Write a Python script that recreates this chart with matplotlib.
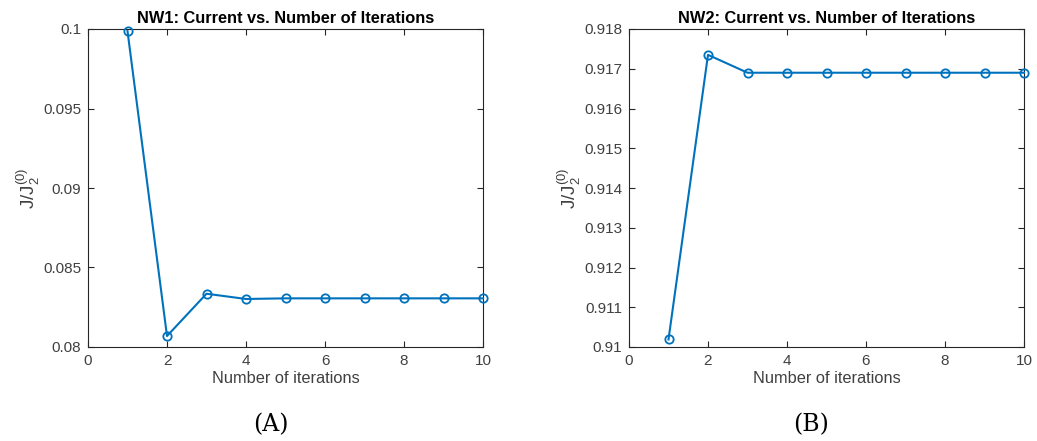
import numpy as np
import matplotlib
matplotlib.use('Agg')
from matplotlib import pyplot as plt

plt.rcParams['font.family'] = ['Liberation Sans', 'DejaVu Sans']
plt.rcParams['mathtext.fontset'] = 'custom'
plt.rcParams['mathtext.rm'] = 'Liberation Sans'
plt.rcParams['mathtext.it'] = 'Liberation Sans'

iterations = np.arange(1, 11)
nw1_current = [0.09987, 0.08069, 0.08335, 0.08302, 0.08306, 0.08306, 0.08306, 0.08306, 0.08306, 0.08306]
nw2_current = [0.91019, 0.91735, 0.91690, 0.91690, 0.91690, 0.91690, 0.91690, 0.91690, 0.91690, 0.91690]

nw1_yticks = [0.08, 0.085, 0.09, 0.095, 0.1]
nw1_ylabels = ['0.08', '0.085', '0.09', '0.095', '0.1']
nw2_yticks = [0.910, 0.911, 0.912, 0.913, 0.914, 0.915, 0.916, 0.917, 0.918]
nw2_ylabels = ['0.91', '0.911', '0.912', '0.913', '0.914', '0.915', '0.916', '0.917', '0.918']
xticks = [0, 2, 4, 6, 8, 10]

blue = '#0072BD'
axis_gray = '#262626'
text_gray = '#404040'

fig = plt.figure(figsize=(10.37, 4.41), dpi=100)
W, H = 1037, 441
ax1 = fig.add_axes([88 / W, 1 - 347 / H, 395 / W, 318 / H])
ax2 = fig.add_axes([629 / W, 1 - 347 / H, 395 / W, 318 / H])


def style_axes(ax, y, yticks, ylabels, ylim, title, letter):
    ax.plot(iterations, y, '-o', color=blue, lw=1.5, ms=6,
            mfc='none', mew=1.3, clip_on=False, zorder=3)
    ax.set_xlim(0, 10)
    ax.set_ylim(*ylim)
    ax.set_xticks(xticks)
    ax.set_yticks(yticks)
    ax.set_yticklabels(ylabels)
    ax.tick_params(direction='in', top=True, right=True, length=4,
                   width=0.8, color=axis_gray, labelcolor=text_gray,
                   labelsize=11, pad=5)
    for s in ax.spines.values():
        s.set_color(axis_gray)
        s.set_linewidth(0.8)
    ax.set_title(title, fontsize=11.8, fontweight='bold', color='black', pad=4)
    ax.set_xlabel('Number of iterations', fontsize=11.8, color=text_gray, labelpad=2)
    ax.set_ylabel(r'$\mathregular{J/J_2^{(0)}}$', fontsize=13.5, color=text_gray, labelpad=1)
    # panel letter sits slightly left of the axes centre
    ax.text(0.5 - 15 / 395, -0.245, letter, transform=ax.transAxes, ha='center',
            va='center', fontsize=17, family='DejaVu Serif', color='black')


style_axes(ax1, nw1_current, nw1_yticks, nw1_ylabels, (0.08, 0.1),
           'NW1: Current vs. Number of Iterations', '(A)')
style_axes(ax2, nw2_current, nw2_yticks, nw2_ylabels, (0.91, 0.918),
           'NW2: Current vs. Number of Iterations', '(B)')

fig.savefig('out.png', dpi=100)
